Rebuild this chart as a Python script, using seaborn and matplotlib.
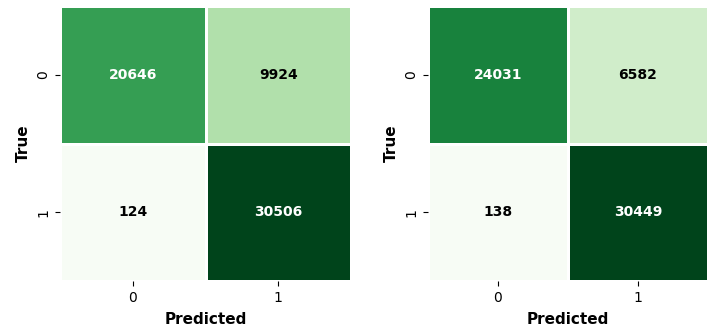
import numpy as np
import matplotlib
matplotlib.use("Agg")
import matplotlib.pyplot as plt
import seaborn as sns

# Confusion matrices for the two models (rows: true class, cols: predicted class)
class_labels = ["0", "1"]
cm_left = [[20646, 9924],
           [124, 30506]]
cm_right = [[24031, 6582],
            [138, 30449]]

fig = plt.figure(figsize=(7.08, 3.32), dpi=100)
ax_left = fig.add_axes([60 / 708, 51 / 332, 291 / 708, 275 / 332])
ax_right = fig.add_axes([428 / 708, 51 / 332, 280 / 708, 275 / 332])

for ax, cm in [(ax_left, cm_left), (ax_right, cm_right)]:
    sns.heatmap(np.array(cm), annot=True, fmt="d", cmap="Greens", cbar=False,
                linewidths=0.8, linecolor="white",
                xticklabels=class_labels, yticklabels=class_labels,
                annot_kws={"fontsize": 10, "fontweight": "bold"}, ax=ax)
    # dark text on light cells in pure black
    for t in ax.texts:
        if matplotlib.colors.to_rgb(t.get_color()) != (1.0, 1.0, 1.0):
            t.set_color("black")
    ax.set_xlabel("Predicted", fontsize=11, fontweight="bold", labelpad=5)
    ax.set_ylabel("True", fontsize=11, fontweight="bold", labelpad=4)
    ax.tick_params(axis="both", labelsize=10)

fig.savefig("out.png", dpi=100)
